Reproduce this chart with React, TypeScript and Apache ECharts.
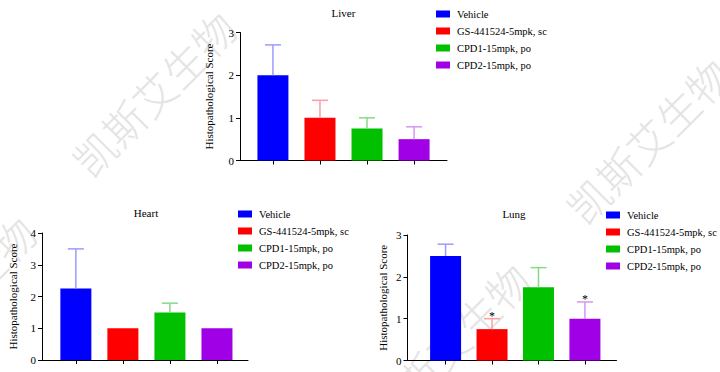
import React, { useEffect, useRef } from "react";
import * as echarts from "echarts";

const groups = ["Vehicle", "GS-441524-5mpk, sc", "CPD1-15mpk, po", "CPD2-15mpk, po"];
const barColors = ["#0000FF", "#FF0000", "#00C000", "#A000E6"];
const errColors = ["#9C9CFF", "#FF9C9C", "#86DA86", "#D496F2"];
const xPositions = [0, 1, 2, 3];

const liverMean = [2.0, 1.0, 0.75, 0.5];
const liverUpper = [2.71, 1.41, 1.0, 0.79];
const liverSig = ["", "", "", ""];

const heartMean = [2.25, 1.0, 1.5, 1.0];
const heartUpper = [3.5, 1.0, 1.79, 1.0];
const heartSig = ["", "", "", ""];

const lungMean = [2.5, 0.75, 1.75, 1.0];
const lungUpper = [2.78, 1.0, 2.22, 1.4];
const lungSig = ["", "*", "", "*"];

const yTicksLiver = [0, 1, 2, 3];
const yTicksHeart = [0, 1, 2, 3, 4];
const yTicksLung = [0, 1, 2, 3];

const watermarkText = "凯斯艾生物";
const FONT = "'Liberation Serif', 'Times New Roman', serif";

type Panel = {
  title: string;
  mean: number[];
  upper: number[];
  sig: string[];
  yTicks: number[];
  grid: { left: number; top: number; width: number; height: number };
  xMin: number;
  xMax: number;
  nameGap: number;
  legendLeft: number;
  legendTop: number;
  titleX: number;
  titleY: number;
};

const panels: Panel[] = [
  {
    title: "Liver", mean: liverMean, upper: liverUpper, sig: liverSig, yTicks: yTicksLiver,
    grid: { left: 240, top: 32.5, width: 207, height: 128 },
    xMin: -0.7, xMax: 3.7, nameGap: 26, legendLeft: 436, legendTop: 8, titleX: 343.5, titleY: 13,
  },
  {
    title: "Heart", mean: heartMean, upper: heartUpper, sig: heartSig, yTicks: yTicksHeart,
    grid: { left: 42, top: 233, width: 206, height: 127 },
    xMin: -0.72, xMax: 3.66, nameGap: 24, legendLeft: 238, legendTop: 208, titleX: 146, titleY: 212.5,
  },
  {
    title: "Lung", mean: lungMean, upper: lungUpper, sig: lungSig, yTicks: yTicksLung,
    grid: { left: 407.5, top: 235, width: 209, height: 125.5 },
    xMin: -0.82, xMax: 3.68, nameGap: 19, legendLeft: 606, legendTop: 209, titleX: 514, titleY: 213.5,
  },
];

const watermarkCenters = [
  [153, 93],
  [647, 140],
  [447, 345],
  [-47, 298],
];

export default function App() {
  const ref = useRef<HTMLDivElement>(null);
  useEffect(() => {
    if (!ref.current) return;
    const chart = echarts.init(ref.current, undefined, { renderer: "svg" });

    const grids: any[] = [];
    const xAxes: any[] = [];
    const yAxes: any[] = [];
    const series: any[] = [];
    const legends: any[] = [];
    const graphics: any[] = [];

    watermarkCenters.forEach(([x, y]) => {
      graphics.push({
        type: "text",
        x,
        y,
        rotation: Math.PI / 4,
        z: 0,
        silent: true,
        style: {
          text: watermarkText,
          fontSize: 42,
          fontWeight: 200,
          fontFamily: "'Noto Sans CJK SC'",
          fill: "#e4e4e4",
          textAlign: "center",
          textVerticalAlign: "middle",
        },
      });
    });

    panels.forEach((p, idx) => {
      grids.push({ ...p.grid, containLabel: false });
      xAxes.push({
        type: "value",
        gridIndex: idx,
        min: p.xMin,
        max: p.xMax,
        axisLine: { show: true, onZero: false, lineStyle: { color: "#000", width: 1 } },
        axisTick: { show: true, customValues: xPositions, length: 4, lineStyle: { color: "#000", width: 1 } },
        axisLabel: { show: false },
        splitLine: { show: false },
      });
      const yMax = p.yTicks[p.yTicks.length - 1];
      yAxes.push({
        type: "value",
        gridIndex: idx,
        min: p.yTicks[0],
        max: yMax,
        interval: 1,
        axisLine: { show: true, onZero: false, lineStyle: { color: "#000", width: 1 } },
        axisTick: { show: true, length: 4, lineStyle: { color: "#000", width: 1 } },
        axisLabel: { fontFamily: FONT, fontSize: 11, color: "#000", margin: 6 },
        splitLine: { show: false },
        name: "Histopathological Score",
        nameLocation: "middle",
        nameGap: p.nameGap,
        nameTextStyle: { fontFamily: FONT, fontSize: 11, color: "#000" },
      });
      groups.forEach((g, i) => {
        series.push({
          type: "bar",
          name: g,
          xAxisIndex: idx,
          yAxisIndex: idx,
          data: [[xPositions[i], p.mean[i]]],
          barWidth: 31,
          barGap: "-100%",
          itemStyle: { color: barColors[i] },
          silent: true,
          z: 2,
        });
      });
      const errData = groups.map((_, i) => [xPositions[i], p.mean[i], p.upper[i], i]);
      series.push({
        type: "custom",
        name: "err" + idx,
        xAxisIndex: idx,
        yAxisIndex: idx,
        silent: true,
        z: 3,
        encode: { x: 0, y: [1, 2] },
        data: errData,
        renderItem: (params: any, api: any) => {
          const x = api.value(0);
          const m = api.value(1);
          const u = api.value(2);
          const ci = api.value(3);
          const p0 = api.coord([x, m]);
          const p1 = api.coord([x, u]);
          const color = errColors[ci];
          const children: any[] = [];
          if (u > m) {
            children.push({
              type: "line",
              shape: { x1: p0[0], y1: p0[1], x2: p1[0], y2: p1[1] },
              style: { stroke: color, lineWidth: 1.5 },
            });
            children.push({
              type: "line",
              shape: { x1: p1[0] - 8, y1: p1[1], x2: p1[0] + 8, y2: p1[1] },
              style: { stroke: color, lineWidth: 1.5 },
            });
          }
          const s = p.sig[params.dataIndex];
          if (s) {
            children.push({
              type: "text",
              x: p1[0],
              y: p1[1] - 3,
              style: {
                text: s,
                fontFamily: FONT,
                fontSize: 12,
                fill: "#000",
                textAlign: "center",
                textVerticalAlign: "middle",
              },
            });
          }
          return { type: "group", children };
        },
      });
      legends.push({
        data: groups,
        orient: "vertical",
        left: p.legendLeft,
        top: p.legendTop,
        padding: 0,
        itemWidth: 14,
        itemHeight: 7,
        itemGap: 5,
        icon: "rect",
        selectedMode: false,
        textStyle: { fontFamily: FONT, fontSize: 10.5, lineHeight: 12, color: "#000", padding: [0, 0, 0, 2] },
      });
      graphics.push({
        type: "text",
        x: p.titleX,
        y: p.titleY,
        z: 10,
        style: {
          text: p.title,
          fontFamily: FONT,
          fontSize: 11,
          fill: "#000",
          textAlign: "center",
          textVerticalAlign: "middle",
        },
      });
    });

    chart.setOption({
      animation: false,
      backgroundColor: "#fff",
      grid: grids,
      xAxis: xAxes,
      yAxis: yAxes,
      legend: legends,
      series,
      graphic: graphics,
    });
    return () => chart.dispose();
  }, []);
  return (
    <div
      ref={ref}
      style={{ position: "fixed", left: 0, top: 0, width: 720, height: 372 }}
    />
  );
}
